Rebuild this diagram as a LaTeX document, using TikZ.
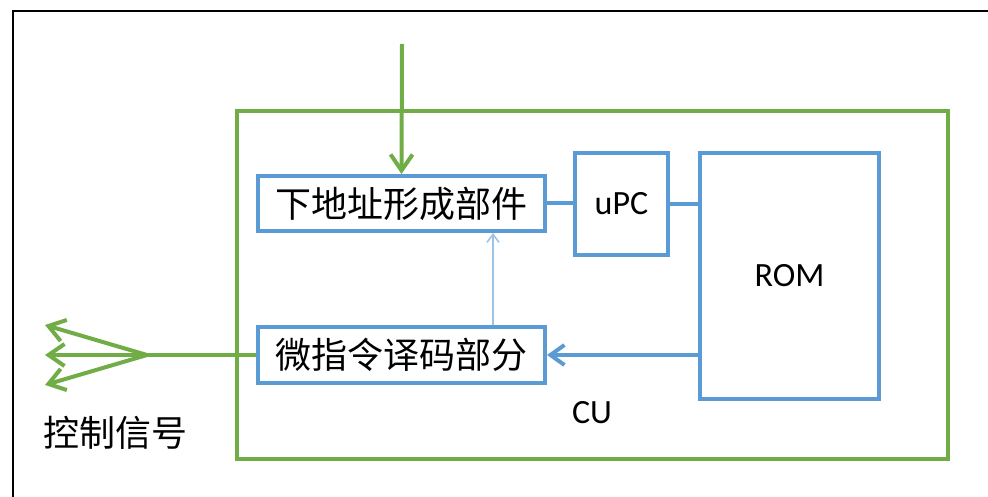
\documentclass[tikz,border=0pt]{standalone}
\usepackage{fontspec}
\setmainfont{Carlito}
\newfontfamily\cjk{Noto Sans CJK SC}
\usepackage{tikz}
\usetikzlibrary{arrows.meta}
\definecolor{boxblue}{HTML}{5B9BD5}
\definecolor{cugreen}{HTML}{70AD47}
\definecolor{lightblue}{HTML}{9DC3E6}

\begin{document}
\begin{tikzpicture}[x=1pt,y=-1pt,
    blkbox/.style={draw=boxblue,line width=4pt,inner sep=0pt,fill=white},
    cubox/.style={draw=cugreen,line width=4.5pt,inner sep=0pt},
    cnlabel/.style={font=\cjk\fontsize{36}{40}\selectfont},
    enlabel/.style={font=\fontsize{34}{38}\selectfont},
    greenarrow/.style={draw=cugreen,line width=4pt,-{Straight Barb[length=16pt,width=22pt,line width=4pt]}},
    bluearrow/.style={draw=boxblue,line width=4pt,-{Straight Barb[length=14pt,width=20pt,line width=4pt]}},
    thinarrow/.style={draw=lightblue,line width=1.6pt,-{Straight Barb[length=8pt,width=12pt]}},
    blueline/.style={draw=boxblue,line width=4pt}]
  \useasboundingbox (0,0) rectangle (988,497);
  \draw[black,line width=1.5pt] (13,497) -- (13,11) -- (988,11);
  \node[cubox,minimum width=711pt,minimum height=348pt] (cu) at (592.5,285) {};
  \node[blkbox,cnlabel,minimum width=287pt,minimum height=55pt] (addr) at (401.5,203.5) {下地址形成部件};
  \node[blkbox,cnlabel,minimum width=287pt,minimum height=56pt] (dec) at (401.5,355) {微指令译码部分};
  \node[blkbox,enlabel,minimum width=93pt,minimum height=102pt] (upc) at (621.5,204) {uPC};
  \node[blkbox,enlabel,minimum width=179pt,minimum height=246pt] (rom) at (789.5,276) {ROM};
  \node[enlabel] (culabel) at (592,413) {CU};
  \node[cnlabel,anchor=west] (ctrl) at (40,433) {控制信号};
  \coordinate (in) at (402,44);
  \coordinate (tap) at (493,0);
  \coordinate (fan) at (147,355);
  \coordinate (sig1) at (45,325);
  \coordinate (sig2) at (45,355);
  \coordinate (sig3) at (45,385);
  \draw[greenarrow] (in) -- (addr.north);
  \draw[thinarrow] (dec.north -| tap) -- (addr.south -| tap);
  \draw[blueline] (addr.east) -- (upc.west |- addr.east);
  \draw[blueline] (upc.east) -- (rom.west |- upc.east);
  \draw[bluearrow] (rom.west |- dec.east) -- (dec.east);
  \draw[draw=cugreen,line width=4pt] (dec.west) -- (fan);
  \draw[greenarrow] (fan) -- (sig1);
  \draw[greenarrow] (fan) -- (sig2);
  \draw[greenarrow] (fan) -- (sig3);
\end{tikzpicture}
\end{document}
